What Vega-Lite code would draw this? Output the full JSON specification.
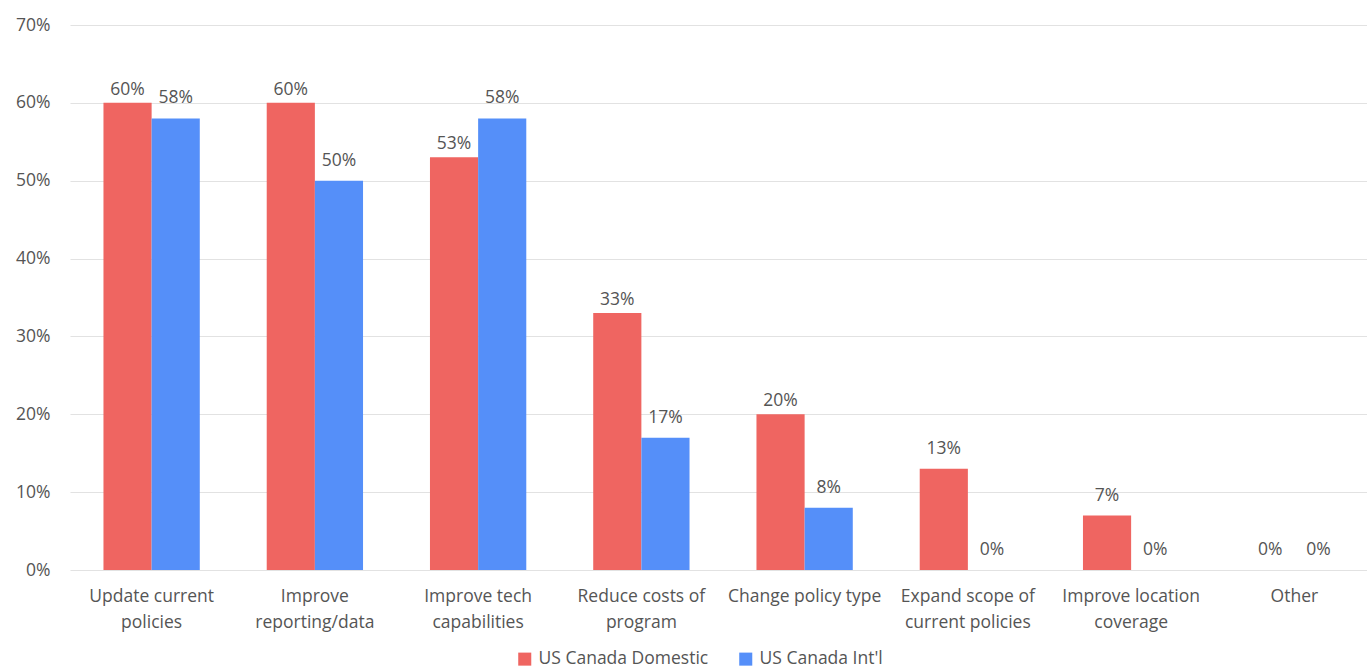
{
  "$schema": "https://vega.github.io/schema/vega-lite/v6.json",
  "width": 1306,
  "height": 545,
  "autosize": {"type": "none"},
  "padding": {"left": 70, "top": 25, "right": -9, "bottom": 99},
  "background": "white",
  "config": {
    "view": {"stroke": null},
    "font": "Open Sans",
    "axis": {"labelFont": "Open Sans", "labelColor": "#555555", "labelFontSize": 17.5}
  },
  "data": {
    "values": [
      {"reason": "Update current policies", "group": "US Canada Domestic", "share": 0.60},
      {"reason": "Update current policies", "group": "US Canada Int'l", "share": 0.58},
      {"reason": "Improve reporting/data", "group": "US Canada Domestic", "share": 0.60},
      {"reason": "Improve reporting/data", "group": "US Canada Int'l", "share": 0.50},
      {"reason": "Improve tech capabilities", "group": "US Canada Domestic", "share": 0.53},
      {"reason": "Improve tech capabilities", "group": "US Canada Int'l", "share": 0.58},
      {"reason": "Reduce costs of program", "group": "US Canada Domestic", "share": 0.33},
      {"reason": "Reduce costs of program", "group": "US Canada Int'l", "share": 0.17},
      {"reason": "Change policy type", "group": "US Canada Domestic", "share": 0.20},
      {"reason": "Change policy type", "group": "US Canada Int'l", "share": 0.08},
      {"reason": "Expand scope of current policies", "group": "US Canada Domestic", "share": 0.13},
      {"reason": "Expand scope of current policies", "group": "US Canada Int'l", "share": 0.0},
      {"reason": "Improve location coverage", "group": "US Canada Domestic", "share": 0.07},
      {"reason": "Improve location coverage", "group": "US Canada Int'l", "share": 0.0},
      {"reason": "Other", "group": "US Canada Domestic", "share": 0.0},
      {"reason": "Other", "group": "US Canada Int'l", "share": 0.0}
    ]
  },
  "encoding": {
    "x": {
      "field": "reason",
      "type": "nominal",
      "sort": null,
      "scale": {"paddingInner": 0.41, "paddingOuter": 0.205},
      "axis": {
        "title": null,
        "domain": false,
        "ticks": false,
        "labelAngle": 0,
        "labelPadding": 17,
        "labelLineHeight": 26,
        "labelLimit": 200,
        "labelExpr": "({'Update current policies': ['Update current', 'policies'], 'Improve reporting/data': ['Improve', 'reporting/data'], 'Improve tech capabilities': ['Improve tech', 'capabilities'], 'Reduce costs of program': ['Reduce costs of', 'program'], 'Expand scope of current policies': ['Expand scope of', 'current policies'], 'Improve location coverage': ['Improve location', 'coverage']})[datum.label] || datum.label"
      }
    },
    "xOffset": {"field": "group", "type": "nominal", "sort": ["US Canada Domestic", "US Canada Int'l"]},
    "y": {
      "field": "share",
      "type": "quantitative",
      "scale": {"domain": [0, 0.7]},
      "axis": {
        "title": null,
        "format": ".0%",
        "values": [0, 0.1, 0.2, 0.3, 0.4, 0.5, 0.6, 0.7],
        "labelOverlap": false,
        "domain": false,
        "ticks": false,
        "labelPadding": 20,
        "gridColor": "#e2e2e2",
        "gridWidth": 1.2
      }
    }
  },
  "layer": [
    {
      "mark": {"type": "bar"},
      "encoding": {
        "color": {
          "field": "group",
          "type": "nominal",
          "sort": ["US Canada Domestic", "US Canada Int'l"],
          "scale": {"domain": ["US Canada Domestic", "US Canada Int'l"], "range": ["#ef6561", "#558ff9"]},
          "legend": {
            "title": null,
            "orient": "none",
            "direction": "horizontal",
            "legendX": 446,
            "legendY": 625,
            "symbolType": "square",
            "symbolSize": 170,
            "symbolOpacity": 1,
            "symbolStrokeWidth": 0,
            "labelFont": "Open Sans",
            "labelFontSize": 17.5,
            "labelColor": "#555555",
            "labelLimit": 300,
            "columnPadding": 28,
            "labelOffset": 5
          }
        }
      }
    },
    {
      "transform": [{"filter": "datum.group === 'US Canada Domestic' && datum.share > 0.15"}],
      "mark": {"type": "text", "dy": -13, "fontSize": 17.5, "color": "#555555", "font": "Open Sans"},
      "encoding": {
        "text": {"field": "share", "type": "quantitative", "format": ".0%"}
      }
    },
    {
      "transform": [{"filter": "datum.group !== 'US Canada Domestic' || datum.share <= 0.15"}],
      "mark": {"type": "text", "dy": -20, "fontSize": 17.5, "color": "#555555", "font": "Open Sans"},
      "encoding": {
        "text": {"field": "share", "type": "quantitative", "format": ".0%"}
      }
    }
  ]
}
